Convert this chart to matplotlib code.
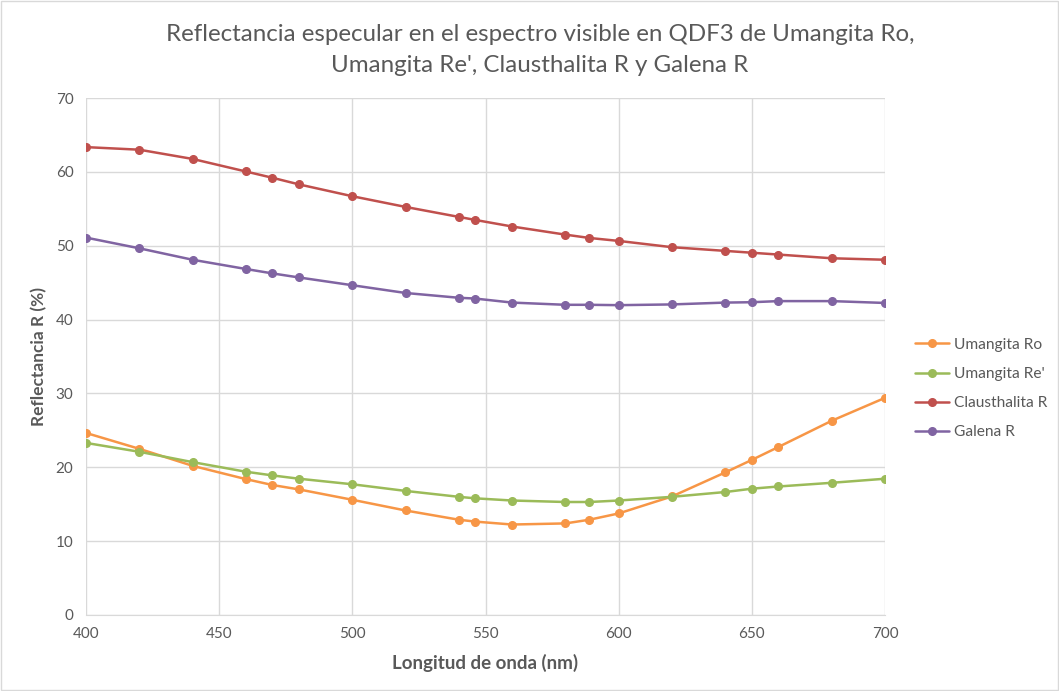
import numpy as np
import matplotlib.pyplot as plt

# Wavelengths (nm) and reflectance values (%)
wavelength = [400, 420, 440, 460, 470, 480, 500, 520, 540, 546,
              560, 580, 589, 600, 620, 640, 650, 660, 680, 700]
umangita_ro = [24.65, 22.5, 20.2, 18.4, 17.6, 17.0, 15.6, 14.15, 12.9, 12.65,
               12.25, 12.4, 12.9, 13.75, 16.05, 19.3, 21.0, 22.75, 26.3, 29.4]
umangita_re = [23.3, 22.1, 20.7, 19.4, 18.9, 18.45, 17.7, 16.8, 16.0, 15.8,
               15.5, 15.3, 15.3, 15.5, 16.0, 16.65, 17.1, 17.4, 17.9, 18.45]
clausthalita = [63.35, 63.0, 61.75, 60.05, 59.2, 58.3, 56.7, 55.25, 53.9, 53.5,
                52.6, 51.5, 51.05, 50.65, 49.8, 49.3, 49.05, 48.8, 48.3, 48.1]
galena = [51.1, 49.65, 48.1, 46.85, 46.25, 45.7, 44.65, 43.6, 42.95, 42.85,
          42.3, 42.0, 42.0, 41.95, 42.05, 42.3, 42.35, 42.5, 42.5, 42.25]

series_names = ["Umangita Ro", "Umangita Re'", "Clausthalita R", "Galena R"]
series_colors = ["#F79646", "#9BBB59", "#C0504D", "#8064A2"]

plt.rcParams['font.family'] = ['Lato', 'DejaVu Sans']
text_gray = "#595959"

fig = plt.figure(figsize=(10.59, 6.91), dpi=100)
ax = fig.add_axes([86 / 1059, 1 - 615 / 691, (885 - 86) / 1059, (615 - 98) / 691])

for vals, name, col in zip([umangita_ro, umangita_re, clausthalita, galena],
                           series_names, series_colors):
    ax.plot(wavelength, vals, color=col, lw=1.8, marker='o', ms=5.5,
            label=name, solid_capstyle='round')

ax.set_xlim(400, 700)
ax.set_ylim(0, 70)
ax.set_xticks(np.arange(400, 701, 50))
ax.set_yticks(np.arange(0, 71, 10))
ax.grid(True, color="#D9D9D9", lw=1)
ax.set_axisbelow(True)
for s in ax.spines.values():
    s.set_visible(False)
ax.spines['bottom'].set_visible(True)
ax.spines['bottom'].set_color("#D9D9D9")
ax.tick_params(length=0, colors=text_gray, labelsize=11, pad=9)

ax.set_xlabel("Longitud de onda (nm)", color=text_gray, fontsize=13.5,
              fontweight='bold', labelpad=9)
ax.set_ylabel("Reflectancia R (%)", color=text_gray, fontsize=12.5,
              fontweight='bold', labelpad=6)

fig.text(540 / 1059, 1 - 50 / 691,
         "Reflectancia especular en el espectro visible en QDF3 de Umangita Ro,\n"
         "Umangita Re', Clausthalita R y Galena R",
         ha='center', va='center', fontsize=17.4, color=text_gray, linespacing=1.6)

leg = ax.legend(loc='center left', bbox_to_anchor=(1.02, 0.438), frameon=False,
                fontsize=11.2, handlelength=2.2, labelspacing=0.97, handletextpad=0.3)
for t in leg.get_texts():
    t.set_color(text_gray)

# light border around the whole chart
fig.patches.append(plt.Rectangle((0.001, 0.001), 0.998, 0.998, transform=fig.transFigure,
                                 fill=False, ec="#D9D9D9", lw=1))

fig.savefig("out.png", dpi=100)
